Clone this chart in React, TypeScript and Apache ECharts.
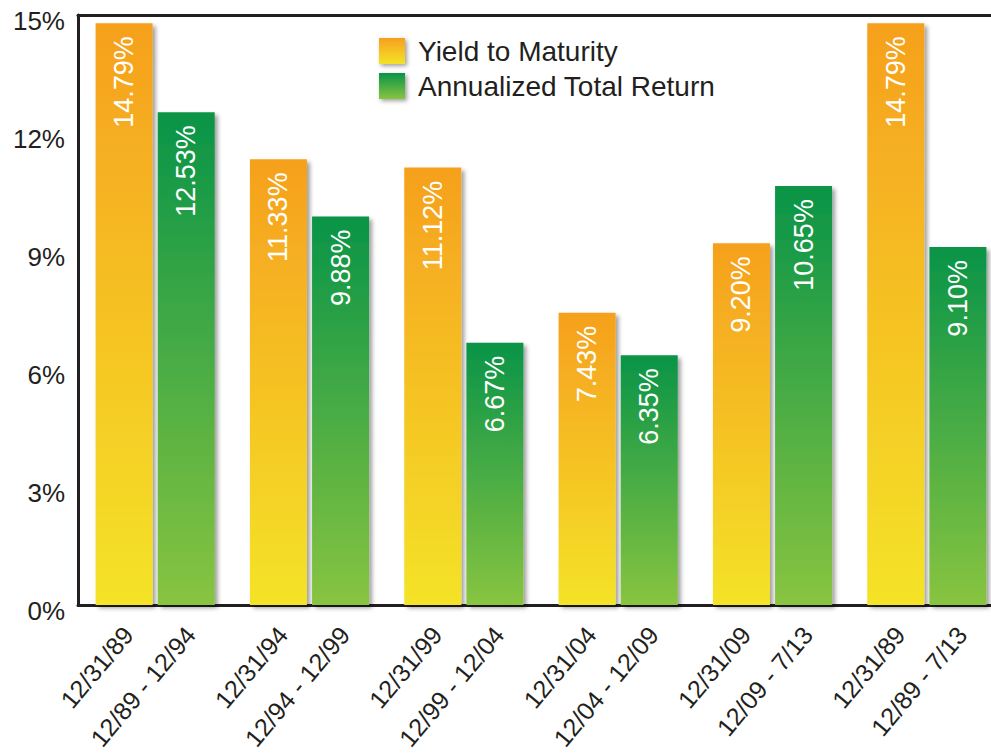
import React, { useEffect, useRef } from "react";
import * as echarts from "echarts";

const groupKeys = ["G1", "G2", "G3", "G4", "G5", "G6"];
const yieldLabels = ["12/31/89", "12/31/94", "12/31/99", "12/31/04", "12/31/09", "12/31/89"];
const returnLabels = ["12/89 - 12/94", "12/94 - 12/99", "12/99 - 12/04", "12/04 - 12/09", "12/09 - 7/13", "12/89 - 7/13"];
const yieldValues = [14.79, 11.33, 11.12, 7.43, 9.2, 14.79];
const returnValues = [12.53, 9.88, 6.67, 6.35, 10.65, 9.1];
const seriesNames = ["Yield to Maturity", "Annualized Total Return"];
const yMin = 0;
const yMax = 15;
const yInterval = 3;

const FONT = '"Liberation Sans", Arial, Helvetica, sans-serif';
const INK = "#231F20";
const BAR_W = 57;
const BAR_GAP_PCT = 9;

const xLabelItems = [
  ...yieldLabels.map((t, i) => ({ cat: i, text: t, side: -1 })),
  ...returnLabels.map((t, i) => ({ cat: i, text: t, side: 1 })),
];

const yellowGrad = () =>
  new echarts.graphic.LinearGradient(0, 0, 0, 1, [
    { offset: 0, color: "#F6A01E" },
    { offset: 1, color: "#F4E328" },
  ]);
const greenGrad = () =>
  new echarts.graphic.LinearGradient(0, 0, 0, 1, [
    { offset: 0, color: "#099447" },
    { offset: 1, color: "#88C441" },
  ]);

const shadow = {
  shadowColor: "rgba(0,0,0,0.38)",
  shadowBlur: 4,
  shadowOffsetX: 3,
  shadowOffsetY: 3,
};

export default function App() {
  const ref = useRef<HTMLDivElement>(null);
  useEffect(() => {
    document.body.style.margin = "0";
    const chart = echarts.init(ref.current!, null, { renderer: "svg" });
    const valueLabel = {
      show: true,
      position: "insideTop",
      rotate: 90,
      align: "right",
      verticalAlign: "middle",
      distance: 13,
      color: "#FFFFFF",
      fontSize: 27,
      fontFamily: FONT,
      formatter: (p: any) => p.value.toFixed(2) + "%",
    };
    const halfStep = (BAR_W * (1 + BAR_GAP_PCT / 100)) / 2;
    chart.setOption({
      animation: false,
      backgroundColor: "#FFFFFF",
      textStyle: { fontFamily: FONT },
      grid: {
        left: 78,
        top: 15,
        width: 926,
        height: 590,
        containLabel: false,
        outerBoundsMode: "none",
      },
      legend: {
        data: seriesNames,
        orient: "vertical",
        left: 379,
        top: 37,
        padding: 0,
        icon: "rect",
        itemWidth: 26,
        itemHeight: 26,
        itemGap: 7,
        itemStyle: { ...shadow, shadowOffsetX: 2, shadowOffsetY: 2 },
        textStyle: { fontSize: 28, color: INK, fontFamily: FONT, padding: [0, 0, 0, 8] },
      },
      xAxis: [
        {
          type: "category",
          data: groupKeys,
          position: "bottom",
          axisLine: { show: true, lineStyle: { color: INK, width: 3 } },
          axisTick: { show: false },
          axisLabel: { show: false },
          splitLine: { show: false },
        },
        {
          type: "category",
          data: groupKeys,
          position: "top",
          axisLine: { show: true, onZero: false, lineStyle: { color: INK, width: 3 } },
          axisTick: { show: false },
          axisLabel: { show: false },
          splitLine: { show: false },
        },
      ],
      yAxis: {
        type: "value",
        min: yMin,
        max: yMax,
        interval: yInterval,
        axisLine: { show: true, lineStyle: { color: INK, width: 3 } },
        axisTick: { show: false },
        splitLine: { show: false },
        axisLabel: {
          formatter: "{value}%",
          fontSize: 26,
          color: INK,
          fontFamily: FONT,
          margin: 13,
          verticalAlign: "top",
          lineHeight: 12,
        },
      },
      series: [
        {
          name: seriesNames[0],
          type: "bar",
          data: yieldValues,
          barWidth: BAR_W,
          barGap: BAR_GAP_PCT + "%",
          itemStyle: { color: yellowGrad(), ...shadow },
          label: valueLabel,
          z: 2,
        },
        {
          name: seriesNames[1],
          type: "bar",
          data: returnValues,
          barWidth: BAR_W,
          barGap: BAR_GAP_PCT + "%",
          itemStyle: { color: greenGrad(), ...shadow },
          label: valueLabel,
          z: 2,
        },
        {
          type: "custom",
          name: "xlabels",
          clip: false,
          silent: true,
          z: 5,
          data: xLabelItems.map((d) => [d.cat, 0]),
          renderItem: (params: any, api: any) => {
            const item = xLabelItems[params.dataIndex];
            const c = api.coord([api.value(0), 0]);
            return {
              type: "text",
              x: c[0] + item.side * halfStep + 4,
              y: c[1] + 25,
              rotation: (50 * Math.PI) / 180,
              style: {
                text: item.text,
                fill: INK,
                fontSize: 25,
                fontFamily: FONT,
                align: "right",
                verticalAlign: "middle",
              },
            };
          },
        },
      ],
    });
    return () => chart.dispose();
  }, []);
  return <div ref={ref} style={{ width: 991, height: 754 }} />;
}
